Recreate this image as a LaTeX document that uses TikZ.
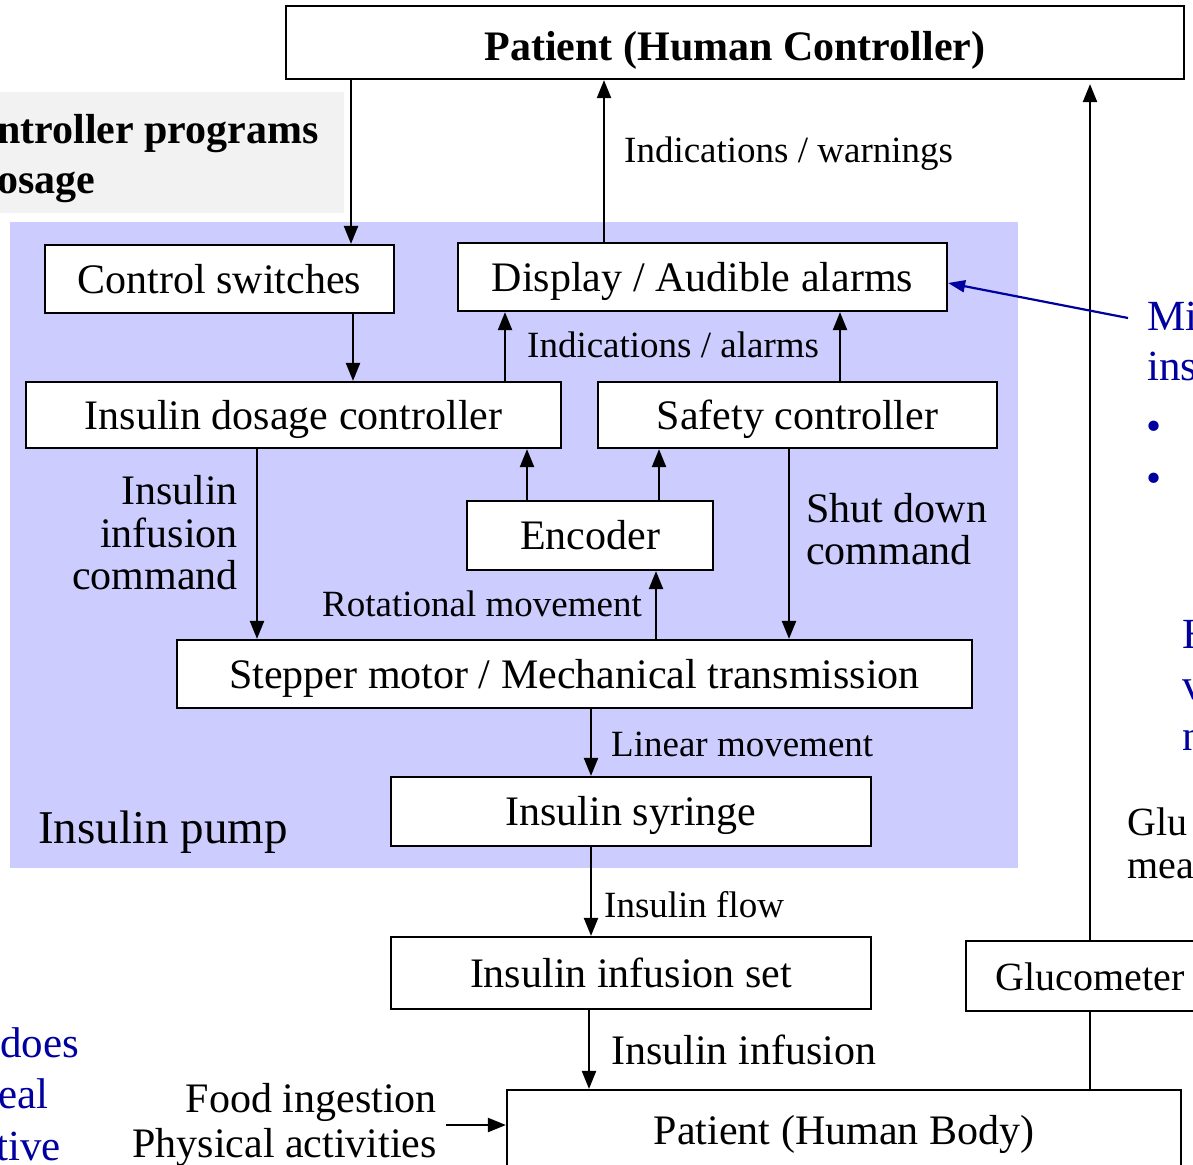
\documentclass[tikz,border=0pt]{standalone}
\usepackage{fontspec}
\setmainfont{Liberation Serif}
\usetikzlibrary{arrows.meta}
\definecolor{pumpbg}{RGB}{204,204,255}
\definecolor{greybg}{RGB}{242,242,242}
\definecolor{noteblue}{RGB}{0,0,160}
\newcommand{\fsBig}{\fontsize{42}{44}\selectfont}
\newcommand{\fsLbl}{\fontsize{37}{40}\selectfont}
\newcommand{\fsNote}{\fontsize{43}{46}\selectfont}
\begin{document}
\begin{tikzpicture}[x=1pt,y=-1pt,
  box/.style={draw=black, line width=2.2pt, fill=white, inner sep=0pt, font=\fsBig, text height=32pt, text depth=4pt},
  arr/.style={line width=2.2pt, -{Triangle[length=18pt,width=14pt]}},
  plain/.style={line width=2.2pt},
  barr/.style={line width=2.2pt, draw=noteblue, -{Triangle[length=17pt,width=12pt]}},
  lbl/.style={inner sep=0pt, font=\fsLbl},
  lblbig/.style={inner sep=0pt, font=\fsBig},
  note/.style={inner sep=0pt, font=\fsNote, text=noteblue}]
\useasboundingbox (0,0) rectangle (1193,1164);
\clip (0,0) rectangle (1193,1164);
\fill[white] (0,0) rectangle (1193,1164);
% backgrounds
\fill[greybg] (-10,92) rectangle (344,213);
\fill[pumpbg] (10,222) rectangle (1018,868);
% grey box text
\node[lblbig, font=\fsBig\bfseries, anchor=base west] (g1) at (-3,143) {ntroller programs};
\node[lblbig, font=\fsBig\bfseries, anchor=base west] (g2) at (-3,193) {osage};
% boxes
\node[box, font=\fsBig\bfseries, text height=36pt, text depth=1pt, minimum width=898pt, minimum height=73pt] (phc) at (735,42.5) {Patient (Human Controller)};
\node[box, minimum width=349pt, minimum height=68pt] (cs) at (219.5,279) {Control switches};
\node[box, minimum width=489pt, minimum height=68pt] (disp) at (702.5,277) {Display / Audible alarms};
\node[box, minimum width=535pt, minimum height=66pt] (idc) at (293.5,415) {Insulin dosage controller};
\node[box, minimum width=399pt, minimum height=66pt] (sc) at (797.5,415) {Safety controller};
\node[box, minimum width=246pt, minimum height=69pt] (enc) at (590,535.5) {Encoder};
\node[box, minimum width=795pt, minimum height=68pt] (stm) at (574.5,674) {Stepper motor / Mechanical transmission};
\node[box, minimum width=480pt, minimum height=69pt] (syr) at (631,811.5) {Insulin syringe};
\node[box, minimum width=480pt, minimum height=72pt] (set) at (631,973) {Insulin infusion set};
\node[box, font=\fontsize{40}{42}\selectfont, minimum width=248pt, minimum height=70pt] (glu) at (1090,976) {Glucometer};
\node[box, minimum width=674pt, minimum height=80pt] (body) at (844,1130) {Patient (Human Body)};
% x positions of connectors
\coordinate (x351) at (351,0);
\coordinate (x604) at (604,0);
\coordinate (x353) at (353,0);
\coordinate (x505) at (505,0);
\coordinate (x840) at (840,0);
\coordinate (x527) at (527,0);
\coordinate (x659) at (659,0);
\coordinate (x257) at (257,0);
\coordinate (x789) at (789,0);
\coordinate (x656) at (656,0);
\coordinate (x591) at (591,0);
\coordinate (x589) at (589,0);
\coordinate (x1090) at (1090,0);
% connectors
\draw[arr] (phc.south -| x351) -- (cs.north -| x351);
\draw[arr] (disp.north -| x604) -- (phc.south -| x604);
\draw[arr] (cs.south -| x353) -- (idc.north -| x353);
\draw[arr] (idc.north -| x505) -- (disp.south -| x505);
\draw[arr] (sc.north -| x840) -- (disp.south -| x840);
\draw[arr] (enc.north -| x527) -- (idc.south -| x527);
\draw[arr] (enc.north -| x659) -- (sc.south -| x659);
\draw[arr] (idc.south -| x257) -- (stm.north -| x257);
\draw[arr] (sc.south -| x789) -- (stm.north -| x789);
\draw[arr] (stm.north -| x656) -- (enc.south -| x656);
\draw[arr] (stm.south -| x591) -- (syr.north -| x591);
\draw[arr] (syr.south -| x591) -- (set.north -| x591);
\draw[arr] (set.south -| x589) -- (body.north -| x589);
\draw[arr, shorten >=4pt] (glu.north -| x1090) -- (phc.south -| x1090);
\draw[plain] (body.north -| x1090) -- (glu.south -| x1090);
\coordinate (fi) at (446,1125);
\draw[arr] (fi) -- (body.west |- fi);
\coordinate (bl) at (1128,318);
\draw[barr] (bl) -- ([yshift=-6pt]disp.east);
% labels
\node[lbl, anchor=base west] (l1) at (624,162) {Indications / warnings};
\node[lbl, anchor=base west] (l2) at (527,357) {Indications / alarms};
\node[lblbig, anchor=base east] (l3a) at (238,504) {Insulin};
\node[lblbig, anchor=base east] (l3b) at (238,547) {infusion};
\node[lblbig, anchor=base east] (l3c) at (238,589) {command};
\node[lblbig, anchor=base west] (l4a) at (806,522) {Shut down};
\node[lblbig, anchor=base west] (l4b) at (806,564) {command};
\node[lbl, anchor=base east] (l5) at (642,616) {Rotational movement};
\node[lbl, anchor=base west] (l6) at (611,756) {Linear movement};
\node[inner sep=0pt, font=\fontsize{47}{50}\selectfont, anchor=base west] (l7) at (38,843) {Insulin pump};
\node[lbl, anchor=base west] (l8) at (604,917) {Insulin flow};
\node[lblbig, anchor=base west] (l9) at (611,1064) {Insulin infusion};
\node[lblbig, anchor=base east] (l10a) at (437,1112) {Food ingestion};
\node[lblbig, anchor=base east] (l10b) at (437,1157) {Physical activities};
% right side notes
\node[note, anchor=base west] (n1) at (1147,330) {Mi};
\node[note, anchor=base west] (n2) at (1147,380) {ins};
\node[note, anchor=base west] (n3) at (1146,440) {•};
\node[note, anchor=base west] (n4) at (1146,492) {•};
\node[note, anchor=base west] (n5) at (1182,648) {H};
\node[note, anchor=base west] (n6) at (1182,699) {v};
\node[note, anchor=base west] (n7) at (1182,750) {n};
\node[inner sep=0pt, font=\fontsize{40}{42}\selectfont, anchor=base west] (n8) at (1127,835) {Glu};
\node[inner sep=0pt, font=\fontsize{40}{42}\selectfont, anchor=base west] (n9) at (1127,878) {mea};
% left bottom notes
\node[note, anchor=base west] (n10) at (0,1057) {does};
\node[note, anchor=base west] (n11) at (-2,1108) {eal};
\node[note, anchor=base west] (n12) at (-4,1160) {tive};
\end{tikzpicture}
\end{document}
